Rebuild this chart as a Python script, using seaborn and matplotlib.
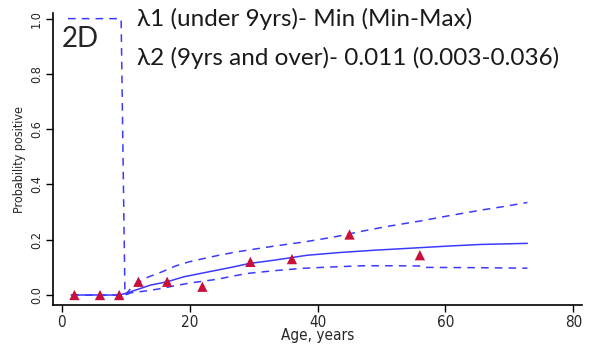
import matplotlib
matplotlib.use('Agg')
import matplotlib.pyplot as plt
import seaborn as sns

# observed proportions by age group
age_obs = [2, 6, 9, 12, 16.5, 22, 29.5, 36, 45, 56]
prop_obs = [0, 0, 0, 0.048, 0.048, 0.03, 0.12, 0.13, 0.219, 0.144]

# fitted curve
fit_age = [1.5, 9, 10.3, 13.9, 16.5, 19.1, 21.7, 24.3, 26.9, 29.3, 33.2, 38.4,
           43.6, 48.8, 55, 60.3, 65.5, 72.8]
fit_mid = [0, 0, 0.008, 0.036, 0.048, 0.066, 0.078, 0.09, 0.102, 0.114, 0.126,
           0.144, 0.154, 0.162, 0.17, 0.177, 0.183, 0.187]

# upper confidence bound
up_age = [1, 9.3, 9.9, 11.3, 13.4, 15.7, 17.8, 19.9, 22.2, 24.6, 26.9, 29, 33.2,
          37.9, 42.6, 47.2, 51.1, 56.1, 60.8, 65.5, 69.6, 72.8]
up_val = [1.0, 1.0, 0.0, 0.036, 0.064, 0.084, 0.105, 0.12, 0.132, 0.144, 0.154,
          0.162, 0.177, 0.192, 0.21, 0.232, 0.249, 0.268, 0.288, 0.307, 0.322, 0.335]

# lower confidence bound
lo_age = [1.5, 10, 10.8, 12.9, 15.2, 17.8, 20.2, 24.3, 26.9, 29, 33.2, 37.9, 42.6,
          47.2, 51.1, 56.4, 56.9, 65, 72.8]
lo_val = [0, 0, 0.008, 0.014, 0.022, 0.034, 0.044, 0.057, 0.069, 0.078, 0.088,
          0.097, 0.102, 0.106, 0.106, 0.105, 0.1, 0.099, 0.097]

x_ticks = [0, 20, 40, 60, 80]
y_ticks = [0.0, 0.2, 0.4, 0.6, 0.8, 1.0]

sns.set_theme(style="ticks")
narrow = ['Liberation Sans Narrow', 'DejaVu Sans']

fig = plt.figure(figsize=(5.9, 3.45), dpi=100)
ax = fig.add_axes([0.0898, 0.116, 0.8962, 0.846])

blue = '#3b3bff'
sns.lineplot(x=fit_age, y=fit_mid, color=blue, linewidth=1.1, ax=ax)
sns.lineplot(x=up_age, y=up_val, color=blue, linewidth=1.1, linestyle=(0, (5, 4)), sort=False, ax=ax)
sns.lineplot(x=lo_age, y=lo_val, color=blue, linewidth=1.1, linestyle=(0, (5, 4)), ax=ax)
sns.scatterplot(x=age_obs, y=prop_obs, marker='^', s=55, color='#c8103a', edgecolor='none', ax=ax, zorder=5)

ax.set_xlim(-1.35, 81.3)
ax.set_ylim(-0.036, 1.02)
ax.set_xticks(x_ticks)
ax.set_yticks(y_ticks)
ax.set_xticklabels([str(t) for t in x_ticks], family=narrow, stretch='condensed', fontsize=11)
ax.set_yticklabels(['%.1f' % t for t in y_ticks], family=narrow, stretch='condensed', fontsize=9, rotation=90, va='center')
ax.tick_params(axis='both', direction='out', length=5, width=1, color='black', pad=2)
for s in ['left', 'bottom']:
    ax.spines[s].set_color('black')
    ax.spines[s].set_linewidth(1.2)
sns.despine(ax=ax)

ax.set_xlabel('Age, years', family=narrow, stretch='condensed', fontsize=11, labelpad=-1)
ax.set_ylabel('Probability positive', family=narrow, stretch='condensed', fontsize=9, labelpad=3)

fig.text(0.104, 0.887, '2D', fontsize=20, family='Lato', va='center')
fig.text(0.233, 0.945, 'λ1 (under 9yrs)- Min (Min-Max)', fontsize=17.5, family='Lato', va='center', color='#1a1a1a')
fig.text(0.233, 0.833, 'λ2 (9yrs and over)- 0.011 (0.003-0.036)', fontsize=17.5, family='Lato', va='center', color='#1a1a1a')

fig.savefig('out.png', dpi=100)
